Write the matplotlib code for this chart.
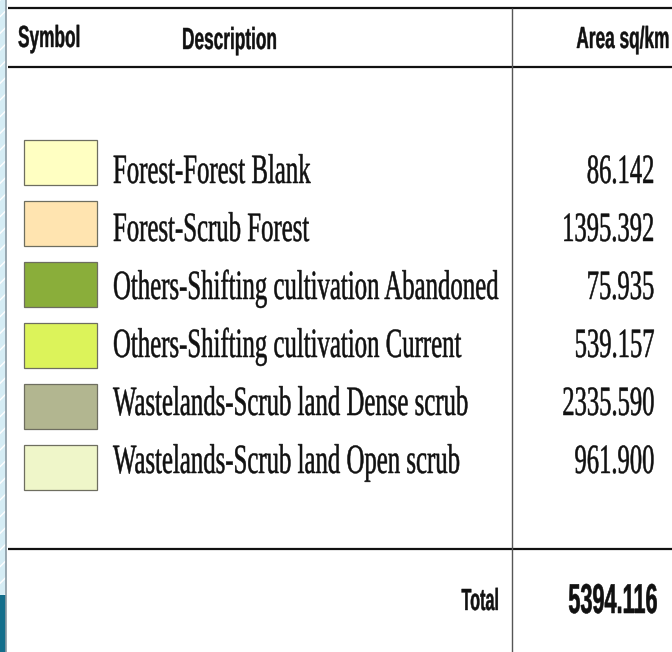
import matplotlib
matplotlib.use("Agg")
import matplotlib.pyplot as plt
import matplotlib.text as mtext
from matplotlib.patches import Rectangle
from matplotlib.patheffects import AbstractPathEffect
from matplotlib.transforms import Affine2D, Bbox

# table content
descriptions = [
    "Forest-Forest Blank",
    "Forest-Scrub Forest",
    "Others-Shifting cultivation Abandoned",
    "Others-Shifting cultivation Current",
    "Wastelands-Scrub land Dense scrub",
    "Wastelands-Scrub land Open scrub",
]
areas = [86.142, 1395.392, 75.935, 539.157, 2335.590, 961.900]
swatch_colors = ["#ffffc2", "#ffe4b0", "#8aae3a", "#dcf35a", "#b2b690", "#eff6c9"]
headers = ["Symbol", "Description", "Area sq/km"]
total_label = "Total"


# the source picture is squeezed sideways, so squeeze the glyphs the same way
class Squeeze(AbstractPathEffect):
    def __init__(self, sx, anchor="left", lw=0.0):
        super().__init__()
        self.sx = sx
        self.anchor = anchor
        self.lw = lw

    def draw_path(self, renderer, gc, tpath, affine, rgbFace=None):
        x0 = tpath.get_extents().x1 if self.anchor == "right" else 0
        t = Affine2D().translate(-x0, 0).scale(self.sx, 1).translate(x0, 0) + affine
        gc0 = renderer.new_gc()
        gc0.copy_properties(gc)
        gc0.set_linewidth(self.lw)
        if rgbFace is not None:
            gc0.set_foreground(rgbFace)
        renderer.draw_path(gc0, tpath, t, rgbFace)
        gc0.restore()


class NarrowText(mtext.Text):
    def __init__(self, *args, sx=1.0, stroke=0.0, **kw):
        super().__init__(*args, **kw)
        self._sx = sx
        self._anchor = "right" if kw.get("ha") == "right" else "left"
        self.set_path_effects([Squeeze(sx, self._anchor, stroke)])

    def get_window_extent(self, renderer=None, dpi=None):
        bb = super().get_window_extent(renderer, dpi)
        w = bb.width * self._sx
        if self._anchor == "right":
            return Bbox([[bb.x1 - w, bb.y0], [bb.x1, bb.y1]])
        return Bbox([[bb.x0, bb.y0], [bb.x0 + w, bb.y1]])


def put(ax, x, y, s, sx, stroke=0.0, **kw):
    t = NarrowText(x, y, s, sx=sx, stroke=stroke, va="baseline", color="#111111", **kw)
    ax.add_artist(t)
    return t


fig = plt.figure(figsize=(6.72, 6.52), dpi=100)
ax = fig.add_axes([0, 0, 1, 1])
ax.set_xlim(0, 672)
ax.set_ylim(652, 0)
ax.axis("off")

# slide edge on the left
ax.add_patch(Rectangle((0, 0), 6, 652, facecolor="#d6edf5", edgecolor="white",
                       hatch="//", lw=0))
ax.add_patch(Rectangle((0, 595), 5.5, 57, facecolor="#136e8b", lw=0))
ax.vlines(6, 0, 652, color="#8a9aa3", lw=1.2)

# rules
ax.hlines([8, 67, 549], 8, 672, color="#111111", lw=1.6)
ax.vlines(512, 8, 652, color="#555555", lw=1.0)

# header
sans = "Liberation Sans"
serif = "Liberation Serif"
put(ax, 18, 47, headers[0], 0.565, 0.3, family=sans, weight="bold", fontsize=22)
put(ax, 182, 49, headers[1], 0.565, 0.3, family=sans, weight="bold", fontsize=22)
put(ax, 670, 48, headers[2], 0.565, 0.3, family=sans, weight="bold", fontsize=22, ha="right")

# rows
for i, (desc, area, col) in enumerate(zip(descriptions, areas, swatch_colors)):
    ax.add_patch(Rectangle((24, 140 + 61 * i), 73, 45, facecolor=col,
                           edgecolor="#6e6e60", lw=0.9))
    base = 183 + 58 * i
    put(ax, 113, base, desc, 0.595, 0.35, family=serif, fontsize=30)
    put(ax, 655, base, f"{area:.3f}", 0.59, 0.35, family=serif, fontsize=30, ha="right")

# total
put(ax, 500, 610, total_label, 0.53, 0.3, family=sans, weight="bold", fontsize=22, ha="right")
put(ax, 658, 613, f"{sum(areas):.3f}", 0.52, 0.4, family=sans, weight="bold", fontsize=30, ha="right")

fig.savefig("out.png", dpi=100)
